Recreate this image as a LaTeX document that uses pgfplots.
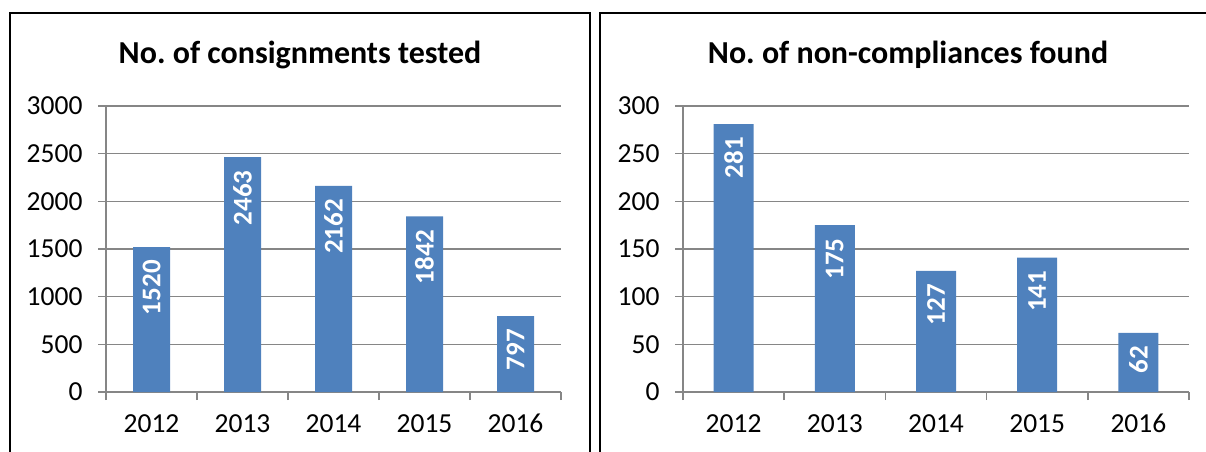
\documentclass[border=0pt]{standalone}
\usepackage{fontspec}
\setmainfont{Carlito}
\usepackage{pgfplots}
\pgfplotsset{compat=1.18}

\definecolor{barblue}{HTML}{4F81BD}
\definecolor{axgray}{HTML}{868686}

\pgfplotsset{
  panel/.style={
    scale only axis,
    anchor=south west,
    ybar, bar width=#1,
    xmin=-0.5, xmax=4.5, ymin=0,
    axis x line*=bottom, axis y line*=left,
    axis line style={draw=axgray, line width=1.5pt, -},
    xtick={-0.5,0.5,1.5,2.5,3.5,4.5},
    xticklabels={,,,,,},
    extra x ticks={0,1,2,3,4},
    extra x tick labels={2012,2013,2014,2015,2016},
    extra x tick style={major tick length=0pt},
    tick align=outside,
    major tick length=8pt,
    tick style={draw=axgray, line width=1.5pt},
    ymajorgrids,
    grid style={draw=axgray, line width=1.5pt},
    tick label style={font=\fontsize{27.5}{32}\selectfont},
    /pgf/number format/assume math mode=true,
    /pgf/number format/1000 sep={},
    yticklabel style={xshift=-12pt},
    xticklabel style={anchor=base, yshift=-40pt},
    title style={at={(0.5,1)}, anchor=base, yshift=37pt,
      font=\fontsize{32}{36}\selectfont\bfseries},
    nodes near coords,
    every node near coord/.append style={rotate=90, anchor=east, white,
      inner xsep=13pt, font=\fontsize{27}{30}\selectfont\bfseries,
      /pgf/number format/assume math mode=true},
  },
}

\begin{document}
\begin{tikzpicture}[x=1pt,y=1pt]
\useasboundingbox (0,0) rectangle (1206,451);
\begin{scope}
\clip (0,0) rectangle (1206,451);
\draw[line width=1.6pt] (10,-30) rectangle (590,438);
\draw[line width=1.6pt] (600,-30) rectangle (1216,438);
\end{scope}

\begin{axis}[panel=37pt,
  at={(106pt,59pt)}, width=455pt, height=286pt,
  ymax=3000, ytick={0,500,...,3000},
  title={No.\ of consignments tested},
  title style={xshift=-33.5pt}]
\addplot[fill=barblue, draw=none] coordinates {
  (0,1520) (1,2463) (2,2162) (3,1842) (4,797)
};
\end{axis}

\begin{axis}[panel=40pt,
  at={(683pt,59pt)}, width=506pt, height=286pt,
  ymax=300, ytick={0,50,...,300},
  title={No.\ of non-compliances found},
  title style={xshift=-28pt}]
\addplot[fill=barblue, draw=none] coordinates {
  (0,281) (1,175) (2,127) (3,141) (4,62)
};
\end{axis}
\end{tikzpicture}
\end{document}
